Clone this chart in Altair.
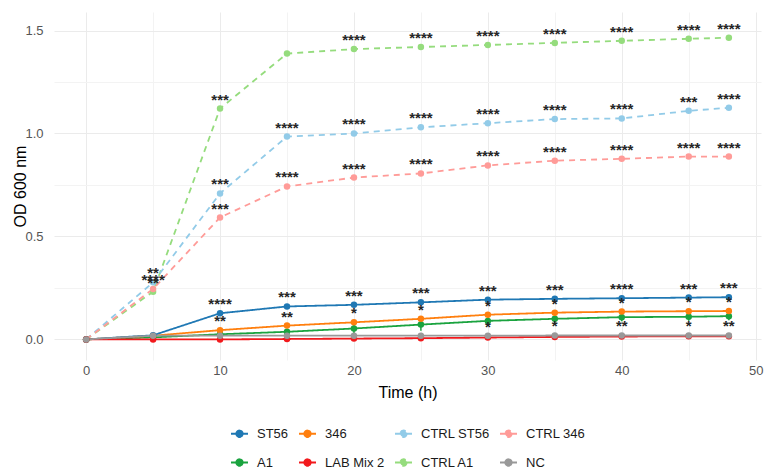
import altair as alt
import pandas as pd

# Sampling times (h)
times = [0, 5, 10, 15, 20, 25, 30, 35, 40, 45, 48]

# Mean OD600 per culture
od_ctrl_a1 = [0, 0.232, 1.121, 1.388, 1.410, 1.420, 1.430, 1.440, 1.450, 1.460, 1.465]
od_ctrl_st56 = [0, 0.277, 0.709, 0.985, 1.000, 1.030, 1.050, 1.070, 1.073, 1.110, 1.125]
od_ctrl_346 = [0, 0.245, 0.592, 0.743, 0.786, 0.806, 0.845, 0.868, 0.877, 0.888, 0.888]
od_a1 = [0, 0.010, 0.025, 0.037, 0.053, 0.072, 0.090, 0.100, 0.108, 0.110, 0.113]
od_346 = [0, 0.018, 0.045, 0.067, 0.083, 0.100, 0.120, 0.130, 0.135, 0.137, 0.138]
od_st56 = [0, 0.020, 0.127, 0.160, 0.168, 0.180, 0.193, 0.197, 0.200, 0.203, 0.205]
od_lab_mix2 = [0, 0, 0, 0.002, 0.004, 0.006, 0.009, 0.012, 0.014, 0.015, 0.015]
od_nc = [0, 0.018, 0.018, 0.018, 0.018, 0.018, 0.018, 0.019, 0.019, 0.019, 0.019]

# Standard deviations (only visible for A1 and 346)
sd_a1 = [0, 0.003, 0.005, 0.015, 0.025, 0.03, 0.025, 0.02, 0.02, 0.02, 0.02]
sd_346 = [0, 0, 0.003, 0.005, 0.008, 0.01, 0.01, 0.01, 0.01, 0.01, 0.01]
sd_none = [0] * 11

# Significance marks
stars_ctrl_a1 = ["", "**", "***", "", "****", "****", "****", "****", "****", "****", "****"]
stars_ctrl_st56 = ["", "**", "***", "****", "****", "****", "****", "****", "****", "***", "****"]
stars_ctrl_346 = ["", "****", "***", "****", "****", "****", "****", "****", "****", "****", "****"]
stars_st56 = ["", "", "****", "***", "***", "***", "***", "***", "****", "***", "***"]
stars_346 = ["", "", "**", "**", "*", "*", "*", "*", "*", "*", "*"]
stars_nc = ["", "", "", "", "", "", "*", "*", "**", "*", "**"]
stars_none = [""] * 11

# Legend entries are laid out column by column (2 rows x 4 columns)
legend_order = ["ST56", "A1", "346", "LAB Mix 2", "CTRL ST56", "CTRL A1", "CTRL 346", "NC"]
palette = ["#1f78b4", "#1aa33f", "#ff7f0e", "#f2191c", "#92cbe8", "#95dc7d", "#ff9b98", "#999999"]
dashes = [[1, 0], [1, 0], [1, 0], [1, 0], [6, 5], [6, 5], [6, 5], [1, 0]]

# drawing order: dashed controls first, NC on top
draw_order = [
    ("CTRL A1", od_ctrl_a1, sd_none, stars_ctrl_a1),
    ("CTRL ST56", od_ctrl_st56, sd_none, stars_ctrl_st56),
    ("CTRL 346", od_ctrl_346, sd_none, stars_ctrl_346),
    ("A1", od_a1, sd_a1, stars_none),
    ("346", od_346, sd_346, stars_346),
    ("ST56", od_st56, sd_none, stars_st56),
    ("LAB Mix 2", od_lab_mix2, sd_none, stars_none),
    ("NC", od_nc, sd_none, stars_nc),
]

rows = []
for name, vals, sds, stars in draw_order:
    for t, v, e, s in zip(times, vals, sds, stars):
        rows.append({"series": name, "time": t, "od": v, "lo": v - e, "hi": v + e, "stars": s})
df = pd.DataFrame(rows)

FONT = "Liberation Sans"
LEGEND_PATH = "M-1,0H1M0.38,0A0.38,0.38,0,1,1,-0.38,0A0.38,0.38,0,1,1,0.38,0Z"

legend = alt.Legend(
    orient="none", legendX=176, legendY=412, columns=4,
    symbolType=LEGEND_PATH, symbolSize=289, symbolStrokeWidth=1.8,
    labelFontSize=13, labelFont=FONT, labelColor="#1a1a1a",
    labelOffset=8, columnPadding=6, rowPadding=12,
)

color = alt.Color("series:N", title=None,
                  scale=alt.Scale(domain=legend_order, range=palette), legend=legend)
dash = alt.StrokeDash("series:N", title=None,
                      scale=alt.Scale(domain=legend_order, range=dashes), legend=legend)

x_minor = "datum.value % 10 != 0"
y_minor = "(datum.value * 4) % 2 != 0"

x = alt.X("time:Q", title="Time (h)",
          scale=alt.Scale(domain=[-2.4, 50.4], nice=False, zero=False),
          axis=alt.Axis(values=list(range(0, 55, 5)),
                        labelExpr="datum.value % 10 == 0 ? datum.label : ''",
                        gridColor={"condition": {"test": x_minor, "value": "#f3f3f3"}, "value": "#ebebeb"},
                        titleY=32, titleBaseline="middle", labelPadding=4))
y = alt.Y("od:Q", title="OD 600 nm",
          scale=alt.Scale(domain=[-0.1, 1.59], nice=False, zero=False),
          axis=alt.Axis(values=[0, 0.25, 0.5, 0.75, 1.0, 1.25, 1.5],
                        labelExpr="(datum.value * 4) % 2 == 0 ? format(datum.value, '.1f') : ''",
                        gridColor={"condition": {"test": y_minor, "value": "#f3f3f3"}, "value": "#ebebeb"},
                        titleX=-34, titleY=174, titleAngle=-90, titleBaseline="middle",
                        labelPadding=11))

base = alt.Chart(df)

lines = base.mark_line(strokeWidth=1.8).encode(x=x, y=y, color=color, strokeDash=dash,
                                               detail="series:N")
errs = base.mark_rule(strokeWidth=1.5).encode(
    x="time:Q", y="lo:Q", y2="hi:Q",
    color=alt.Color("series:N", scale=alt.Scale(domain=legend_order, range=palette), legend=None),
)
points = base.mark_circle(size=42, opacity=1).encode(x="time:Q", y="od:Q", color=color)
labels = base.transform_filter("datum.stars != ''").mark_text(
    dy=-9, fontSize=15, font=FONT, fontWeight="bold", color="#262626", baseline="middle"
).encode(x="time:Q", y="od:Q", text="stars:N")

chart = alt.layer(lines, errs, points, labels).properties(
    width=707, height=348,
    autosize=alt.AutoSizeParams(type="none"),
    padding={"left": 54, "top": 12, "right": 12, "bottom": 116},
).configure_view(stroke=None).configure_axis(
    domain=False, ticks=False,
    labelFont=FONT, labelFontSize=13, labelColor="#555555",
    titleFont=FONT, titleFontSize=16, titleFontWeight="normal", titleColor="#000000",
    gridWidth=1,
)

chart.save("out.html", embed_options={"renderer": "svg", "actions": False})
